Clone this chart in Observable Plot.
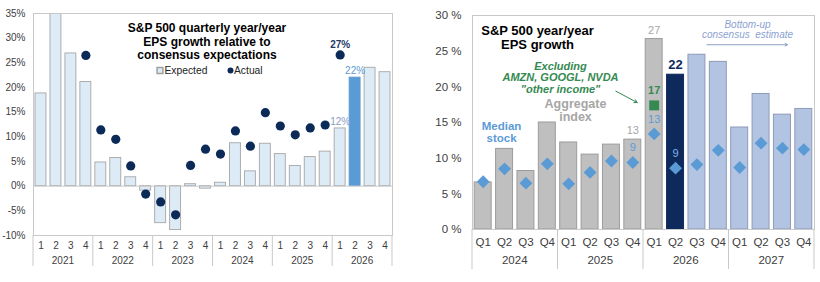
<!DOCTYPE html>
<html>
<head>
<meta charset="utf-8">
<script src="https://cdn.jsdelivr.net/npm/d3@7"></script>
<script src="https://cdn.jsdelivr.net/npm/@observablehq/plot@0.6"></script>
<style>
  html, body { margin: 0; padding: 0; background: #fff; }
  #charts { display: flex; width: 820px; height: 282px; }
  #charts svg { display: block; }
</style>
</head>
<body>
<div id="charts"></div>
<script>
// ---- Left panel: quarterly EPS growth, expected vs actual (%) ----
const surpriseYears = ["2021", "2022", "2023", "2024", "2025", "2026"];
const surpriseQuarters = ["1", "2", "3", "4"];
const expectedGrowth = [18.8, 64, 26.9, 21.1, 4.8, 5.7, 1.8, -0.9, -7.5, -8.9, 0.4, -0.5,
                        0.7, 8.7, 3.0, 8.6, 6.5, 4.1, 5.9, 7.0, 11.7, 22.0, 24.0, 23.1];
const actualGrowth = [null, null, null, 26.5, 11.4, 9.5, 4.1, -1.6, -3.2, -5.8, 4.2, 7.5,
                      6.5, 11.2, 8.1, 14.9, 12.2, 10.4, 11.8, 12.4, 26.6, null, null, null];
const surpriseTicks = [-10, -5, 0, 5, 10, 15, 20, 25, 30, 35];

// ---- Right panel: year/year EPS growth, aggregate vs median stock (%) ----
const growthYears = ["2024", "2025", "2026", "2027"];
const growthQuarters = ["Q1", "Q2", "Q3", "Q4"];
const aggregateGrowth = [6.6, 11.3, 8.2, 15.0, 12.2, 10.5, 11.9, 12.6,
                         26.7, 21.7, 24.5, 23.5, 14.3, 19.0, 16.1, 16.9];
const medianGrowth = [6.7, 8.5, 6.5, 9.2, 6.4, 8.0, 9.6, 9.4,
                      13.4, 8.6, 9.1, 11.1, 8.7, 12.1, 11.4, 11.2];
const exOtherIncomeGrowth = [null, null, null, null, null, null, null, null,
                             17.4, null, null, null, null, null, null, null];
const growthTicks = [0, 5, 10, 15, 20, 25, 30];

const FONT = "'Liberation Sans', Arial, Helvetica, sans-serif";
const TEXT = "#404040";
const RULE = "#c9c9c9";

// Year group labels with separators hanging below the quarter labels
function yearBrackets({keys, years, drop, labelOffset, fontSize}) {
  return (index, scales, values, dimensions) => {
    const x = scales.x;
    const step = x.step();
    const bottom = dimensions.height - dimensions.marginBottom;
    const g = d3.create("svg:g").attr("font-family", FONT);
    const edges = new Set();
    for (const yr of years) {
      const ks = keys.filter(k => k.startsWith(yr + " "));
      const x0 = x(ks[0]);
      const x1 = x(ks[ks.length - 1]) + step;
      edges.add(Math.round(x0 * 100) / 100);
      edges.add(Math.round(x1 * 100) / 100);
      g.append("text")
        .attr("x", (x0 + x1) / 2)
        .attr("y", bottom + labelOffset)
        .attr("dy", "0.35em")
        .attr("text-anchor", "middle")
        .attr("font-size", fontSize)
        .attr("fill", TEXT)
        .text(yr);
    }
    for (const e of edges) {
      g.append("line")
        .attr("x1", e).attr("x2", e)
        .attr("y1", bottom).attr("y2", bottom + drop)
        .attr("stroke", RULE);
    }
    return g.node();
  };
}

// ---------- Left chart ----------
const sKeys = surpriseYears.flatMap(y => surpriseQuarters.map(q => `${y} ${q}`));
const sRows = sKeys.map((key, i) => ({
  key, year: key.split(" ")[0], q: key.split(" ")[1],
  expected: expectedGrowth[i], actual: actualGrowth[i]
}));
const sCurrent = "2026 2";
const sLabelled = ["2026 1", "2026 2"];

const left = Plot.plot({
  width: 410, height: 282,
  marginLeft: 33, marginRight: 18, marginTop: 13, marginBottom: 47,
  style: {fontFamily: FONT, fontSize: "10px", color: TEXT, background: "white"},
  x: {type: "band", domain: sKeys, padding: 0, round: false, label: null},
  y: {domain: [-10, 35], label: null},
  marks: [
    Plot.barY(sRows, {
      x: "key", y: "expected",
      fill: d => d.key === sCurrent ? "#5b9bd5" : "#ddebf7",
      stroke: d => d.key === sCurrent ? "#5b9bd5" : "#a6a6a6",
      strokeWidth: 0.9, insetLeft: 2, insetRight: 2, clip: true
    }),
    Plot.ruleY([0], {stroke: RULE}),
    Plot.frame({stroke: RULE}),
    Plot.dot(sRows, {x: "key", y: "actual", r: 4.6, fill: "#0c2a57", clip: true}),
    Plot.text(sRows.filter(d => d.key === "2026 1"), {
      x: "key", y: "actual", text: d => `${Math.round(d.actual)}%`,
      dy: -10, fontWeight: "bold", fontSize: 10, fill: "#1f3864"
    }),
    Plot.text(sRows.filter(d => sLabelled.includes(d.key)), {
      x: "key", y: "expected", text: d => `${Math.round(d.expected)}%`,
      dy: -7, fontSize: 10, fill: d => d.key === sCurrent ? "#5b9bd5" : "#8c9cc4"
    }),
    Plot.axisY({ticks: surpriseTicks, tickFormat: d => `${d}%`, tickSize: 0, tickPadding: 8, fontSize: 10, label: null}),
    Plot.axisX({tickSize: 0, tickPadding: 6, tickFormat: k => k.split(" ")[1], fontSize: 10, label: null}),
    yearBrackets({keys: sKeys, years: surpriseYears, drop: 31, labelOffset: 25, fontSize: 10}),
    // title
    Plot.text(["S&P 500 quarterly year/year\nEPS growth relative to\nconsensus expectations"], {
      text: d => d, frameAnchor: "top", lineAnchor: "middle", dx: -6, dy: 28,
      fontWeight: "bold", fontSize: 12, lineHeight: 1.13, fill: "#000"
    }),
    // legend
    Plot.dot([0], {frameAnchor: "top", dx: -53, dy: 57, symbol: "square", r: 3.3, fill: "#ddebf7", stroke: "#a0a0a0"}),
    Plot.text(["Expected"], {text: d => d, frameAnchor: "top", textAnchor: "start", lineAnchor: "middle", dx: -48.5, dy: 57, fontSize: 10.3, fill: "#222"}),
    Plot.dot([0], {frameAnchor: "top", dx: 17.5, dy: 57, r: 3, fill: "#0c2a57"}),
    Plot.text(["Actual"], {text: d => d, frameAnchor: "top", textAnchor: "start", lineAnchor: "middle", dx: 21, dy: 57, fontSize: 10.3, fill: "#222"})
  ]
});

// ---------- Right chart ----------
const gKeys = growthYears.flatMap(y => growthQuarters.map(q => `${y} ${q}`));
const latest = "2026 Q2";
const latestIdx = gKeys.indexOf(latest);
const gRows = gKeys.map((key, i) => ({
  key, aggregate: aggregateGrowth[i], median: medianGrowth[i], exOther: exOtherIncomeGrowth[i],
  phase: i < latestIdx ? "reported" : i === latestIdx ? "latest" : "estimate"
}));
const phaseFill = {reported: "#bfbfbf", latest: "#0e2a5c", estimate: "#b2c4e1"};
const phaseStroke = {reported: "#9c9c9c", latest: "#0e2a5c", estimate: "#8d9bb8"};
const gLabelled = ["2025 Q4", "2026 Q1", "2026 Q2"];
const gLab = gRows.filter(d => gLabelled.includes(d.key));
const gLabPast = gLab.filter(d => d.phase === "reported");
const gLabLatest = gLab.filter(d => d.phase === "latest");
const GREEN = "#358a52";
const BLUE = "#5b9bd5";

const right = Plot.plot({
  width: 410, height: 282,
  marginLeft: 62, marginRight: 6, marginTop: 15, marginBottom: 53,
  style: {fontFamily: FONT, fontSize: "11px", color: TEXT, background: "white"},
  x: {type: "band", domain: gKeys, padding: 0, round: false, label: null},
  y: {domain: [0, 30], label: null},
  marks: [
    Plot.barY(gRows, {
      x: "key", y: "aggregate",
      fill: d => phaseFill[d.phase], stroke: d => phaseStroke[d.phase],
      strokeWidth: 1, insetLeft: 2.2, insetRight: 2.2
    }),
    Plot.frame({stroke: RULE}),
    Plot.dot(gRows, {x: "key", y: "median", symbol: "diamond2", r: 5.8, fill: BLUE}),
    Plot.dot(gRows, {x: "key", y: "exOther", symbol: "square", r: 5.6, fill: GREEN}),
    // aggregate value labels
    Plot.text(gLabPast, {
      x: "key", y: "aggregate", text: d => `${Math.round(d.aggregate)}`,
      dy: -9, fontSize: 11, fill: "#a6a6a6"
    }),
    Plot.text(gLabLatest, {
      x: "key", y: "aggregate", text: d => `${Math.round(d.aggregate)}`,
      dy: -10, fontSize: 13, fontWeight: "bold", fill: "#0e2a5c"
    }),
    // median-stock value labels
    Plot.text(gLabPast, {
      x: "key", y: "median", text: d => `${Math.round(d.median)}`,
      dy: -14.5, fontSize: 11, fill: BLUE
    }),
    Plot.text(gLabLatest, {
      x: "key", y: "median", text: d => `${Math.round(d.median)}`,
      dy: -15, fontSize: 11, fill: "#7fb3e6"
    }),
    Plot.text(gRows.filter(d => d.exOther != null), {
      x: "key", y: "exOther", text: d => `${Math.round(d.exOther)}`,
      dy: -15, fontSize: 11, fontWeight: "bold", fill: GREEN
    }),
    Plot.axisY({ticks: growthTicks, tickFormat: d => `${d} %`, tickSize: 0, tickPadding: 11, fontSize: 11.5, label: null}),
    Plot.axisX({tickSize: 0, tickPadding: 8.5, tickFormat: k => k.split(" ")[1], fontSize: 11.5, label: null}),
    yearBrackets({keys: gKeys, years: growthYears, drop: 40, labelOffset: 31, fontSize: 11.5}),
    // title
    Plot.text(["S&P 500 year/year\nEPS growth"], {
      text: d => d, frameAnchor: "top-left", textAnchor: "middle", lineAnchor: "middle",
      dx: 65, dy: 22, fontWeight: "bold", fontSize: 13, lineHeight: 1.08, fill: "#000"
    }),
    // series annotations
    Plot.text(["Excluding\nAMZN, GOOGL, NVDA\n\"other income\""], {
      text: d => d, frameAnchor: "top-left", textAnchor: "middle", lineAnchor: "middle",
      dx: 88, dy: 62, fontWeight: "bold", fontStyle: "italic", fontSize: 11, lineHeight: 1.04, fill: GREEN
    }),
    Plot.arrow([{from: "2025 Q4", to: "2026 Q1"}], {
      x1: "from", y1: () => 19.4, x2: "to", y2: () => 17.8, dx: -17,
      stroke: GREEN, strokeWidth: 1, headLength: 5
    }),
    Plot.text(["Aggregate\nindex"], {
      text: d => d, frameAnchor: "top-left", textAnchor: "middle", lineAnchor: "middle",
      dx: 103, dy: 94.5, fontWeight: "bold", fontSize: 12.5, lineHeight: 1.04, fill: "#a6a6a6"
    }),
    Plot.text(["Median\nstock"], {
      text: d => d, frameAnchor: "top-left", textAnchor: "middle", lineAnchor: "middle",
      dx: 29, dy: 116.5, fontWeight: "bold", fontSize: 11.5, lineHeight: 1.1, fill: BLUE
    }),
    Plot.text(["Bottom-up\nconsensus  estimate"], {
      text: d => d, frameAnchor: "top-left", textAnchor: "middle", lineAnchor: "middle",
      dx: 275, dy: 14.5, fontStyle: "italic", fontSize: 10, lineHeight: 0.95, fill: "#8c9fd1"
    }),
    Plot.arrow([{from: "2026 Q3", to: "2027 Q3"}], {
      x1: "from", y1: () => 25.9, x2: "to", y2: () => 25.9, dx: 10, insetEnd: 5,
      stroke: "#8c9fc4", strokeWidth: 1, headLength: 4
    })
  ]
});

document.getElementById("charts").append(left, right);
</script>
</body>
</html>
